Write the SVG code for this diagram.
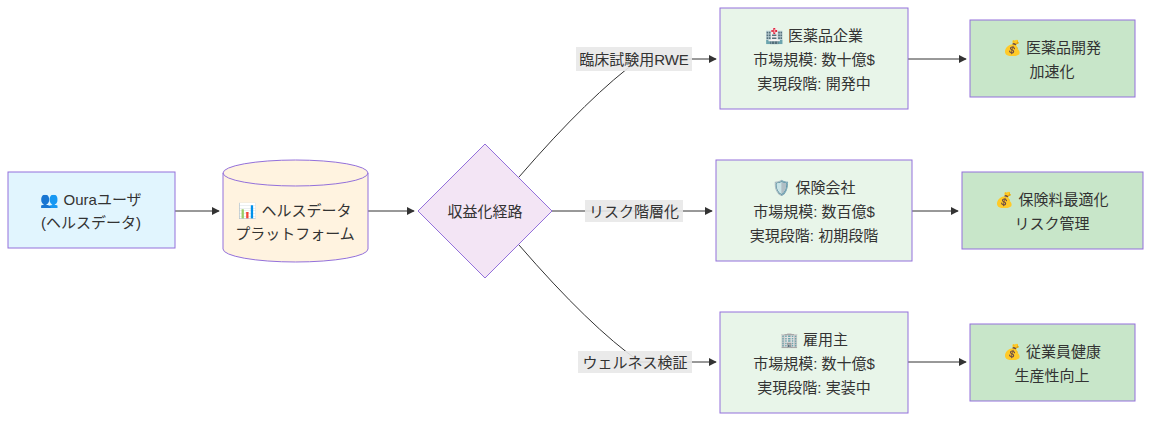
<svg xmlns="http://www.w3.org/2000/svg" width="1151" height="422" viewBox="0 0 1151 422">
<style>
text{font-family:"Liberation Sans","Noto Sans CJK JP",sans-serif;font-size:15px;fill:#333;text-anchor:middle;dominant-baseline:central}
.e{fill:none;stroke:#333;stroke-width:1}
.lb{fill:#e8e8e8;opacity:0.9}
.g{fill:#e8f5e9;stroke:#9370db}
.d{fill:#c8e6c9;stroke:#9370db}
</style>
<defs><marker id="a" viewBox="0 0 10 10" refX="9" refY="5" markerWidth="8" markerHeight="8" orient="auto"><path d="M0,0L10,5L0,10z" fill="#333"/></marker></defs>
<g id="connectors">
<path class="e" d="M175,211H219" marker-end="url(#a)"/>
<path class="e" d="M368,211H414" marker-end="url(#a)"/>
<path class="e" d="M519,177Q590,95 640,59H716" marker-end="url(#a)"/>
<path class="e" d="M552,211H712" marker-end="url(#a)"/>
<path class="e" d="M519,245Q590,327 640,362H716" marker-end="url(#a)"/>
<path class="e" d="M908,59H966" marker-end="url(#a)"/>
<path class="e" d="M912,211H958" marker-end="url(#a)"/>
<path class="e" d="M908,362H966" marker-end="url(#a)"/>
<rect class="lb" x="576" y="47" width="116" height="24"/><text x="634" y="59">臨床試験用RWE</text>
<rect class="lb" x="585" y="200" width="98" height="22"/><text x="634" y="211">リスク階層化</text>
<rect class="lb" x="578" y="351" width="114" height="22"/><text x="635" y="362">ウェルネス検証</text>
</g>
<g id="user"><rect x="8" y="172" width="167" height="76" fill="#e1f5fe" stroke="#9370db"/><text x="91" y="199">👥 Ouraユーザ</text><text x="91" y="222">(ヘルスデータ)</text></g>
<g id="platform"><path d="M223,173V249A72.5,13 0 0 0 368,249V173A72.5,13 0 0 0 223,173A72.5,13 0 0 0 368,173" fill="#fff3e0" stroke="#9370db"/><text x="295" y="210">📊 ヘルスデータ</text><text x="295" y="233">プラットフォーム</text></g>
<g id="route"><path d="M485,144L552,211L485,278L418,211Z" fill="#f3e5f5" stroke="#9370db"/><text x="485" y="211">収益化経路</text></g>
<g id="pharma"><rect class="g" x="720" y="8" width="188" height="101"/><text x="814" y="35">🏥 医薬品企業</text><text x="814" y="59">市場規模: 数十億$</text><text x="814" y="83">実現段階: 開発中</text></g>
<g id="insurance"><rect class="g" x="716" y="160" width="196" height="101"/><text x="814" y="187">🛡️ 保険会社</text><text x="814" y="211">市場規模: 数百億$</text><text x="814" y="235">実現段階: 初期段階</text></g>
<g id="employer"><rect class="g" x="720" y="312" width="188" height="101"/><text x="814" y="339">🏢 雇用主</text><text x="814" y="363">市場規模: 数十億$</text><text x="814" y="387">実現段階: 実装中</text></g>
<g id="r1"><rect class="d" x="970" y="20" width="165" height="77"/><text x="1052" y="47">💰 医薬品開発</text><text x="1052" y="71">加速化</text></g>
<g id="r2"><rect class="d" x="962" y="172" width="181" height="77"/><text x="1052" y="199">💰 保険料最適化</text><text x="1052" y="223">リスク管理</text></g>
<g id="r3"><rect class="d" x="970" y="324" width="165" height="77"/><text x="1052" y="351">💰 従業員健康</text><text x="1052" y="375">生産性向上</text></g>
</svg>
